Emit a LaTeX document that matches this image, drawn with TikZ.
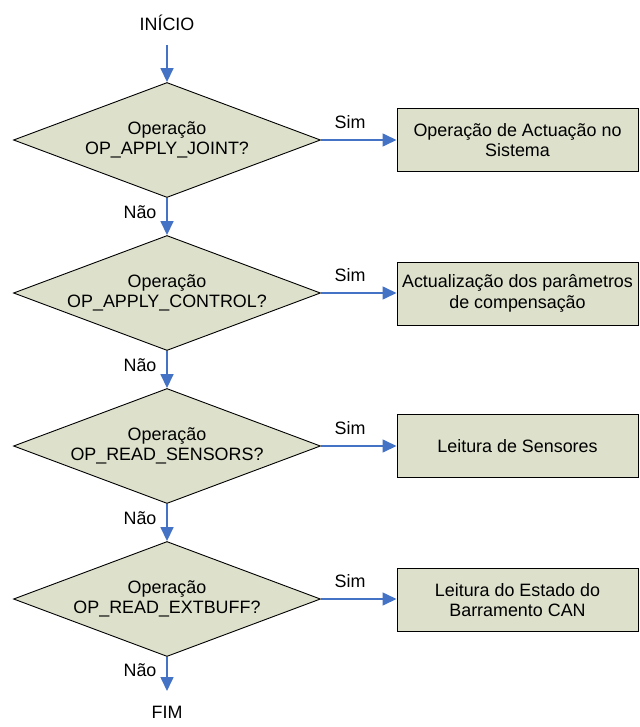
\documentclass[tikz,border=0pt]{standalone}
\usepackage{fontspec}
\setmainfont{Liberation Sans}
\usetikzlibrary{shapes.geometric,arrows.meta}
\definecolor{boxfill}{RGB}{221,224,203}
\definecolor{arrblue}{RGB}{68,114,196}
\tikzset{
  txt/.style={font=\fontsize{17.9}{20.5}\selectfont, inner sep=0pt},
  decision/.style={diamond, draw=black, line width=0.9pt, fill=boxfill, minimum width=307pt, minimum height=115pt, inner sep=0pt, aspect=2.67, align=center, txt},
  process/.style={rectangle, draw=black, line width=1pt, fill=boxfill, minimum width=241pt, minimum height=63pt, inner sep=0pt, align=center, txt},
  flow/.style={draw=arrblue, line width=1.6pt, -{Triangle[length=14pt,width=13pt]}},
}
\begin{document}
\begin{tikzpicture}[x=1pt,y=1pt]
\useasboundingbox (0,0) rectangle (639,-727);
\node[txt] (start) at (167,-23) {INÍCIO};
\node[decision] (d1) at (167,-140) {Operação\\OP\_APPLY\_JOINT?};
\node[decision] (d2) at (167,-293) {Operação\\OP\_APPLY\_CONTROL?};
\node[decision] (d3) at (167,-446) {Operação\\OP\_READ\_SENSORS?};
\node[decision] (d4) at (167,-599) {Operação\\OP\_READ\_EXTBUFF?};
\node[process] (p1) at (517.5,-140) {Operação de Actuação no\\Sistema};
\node[process] (p2) at (517.5,-293.5) {Actualização dos parâmetros\\de compensação};
\node[process] (p3) at (517.5,-446) {Leitura de Sensores};
\node[process] (p4) at (517.5,-600) {Leitura do Estado do\\Barramento CAN};
\node[txt] (fim) at (167,-712) {FIM};
\coordinate (endarrow) at (167,-691);
\draw[flow] (167,-45) -- (d1.north);
\draw[flow] (d1.south) -- (d2.north);
\draw[flow] (d2.south) -- (d3.north);
\draw[flow] (d3.south) -- (d4.north);
\draw[flow] (d4.south) -- (endarrow);
\draw[flow] (d1.east) -- (p1.west);
\draw[flow] (d2.east) -- (p2.west |- d2.east);
\draw[flow] (d3.east) -- (p3.west);
\draw[flow] (d4.east) -- (p4.west |- d4.east);
\node[txt] (s1) at (350,-122) {Sim};
\node[txt] (s2) at (350,-275) {Sim};
\node[txt] (s3) at (350,-428) {Sim};
\node[txt] (s4) at (350,-581) {Sim};
\node[txt] (n1) at (140,-212) {Não};
\node[txt] (n2) at (140,-365) {Não};
\node[txt] (n3) at (140,-518) {Não};
\node[txt] (n4) at (140,-670) {Não};
\end{tikzpicture}
\end{document}
